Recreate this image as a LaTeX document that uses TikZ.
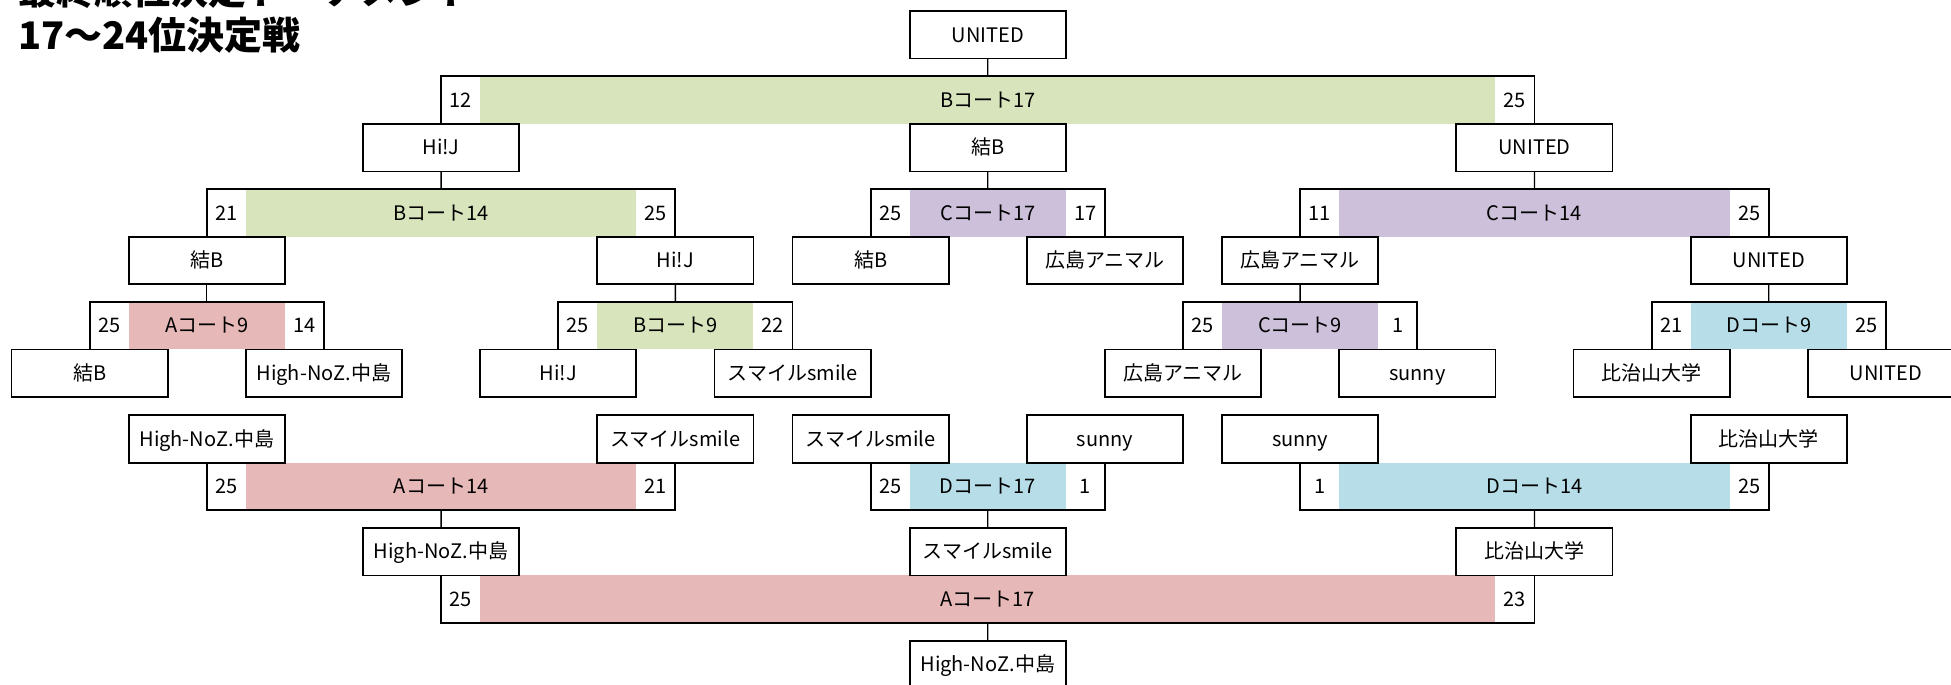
\documentclass[tikz,border=0pt]{standalone}
\usepackage{fontspec}
\setmainfont{Noto Sans CJK JP}
\definecolor{cgreen}{HTML}{D8E4BC}
\definecolor{cpurple}{HTML}{CCC0DA}
\definecolor{cred}{HTML}{E6B8B7}
\definecolor{cblue}{HTML}{B7DEE8}
\tikzset{
  teambox/.style={draw=black, line width=1.8pt, minimum width=156.2pt, minimum height=47.6pt,
    inner sep=0pt, outer sep=0pt, text height=14.7pt, text depth=0pt, font=\fontsize{20}{24}\selectfont},
  lbl/.style={inner sep=0pt, outer sep=0pt, text height=14.7pt, text depth=0pt, font=\fontsize{20}{24}\selectfont},
  barline/.style={draw=black, line width=1.8pt},
  conn/.style={draw=black, line width=1.4pt},
  titletext/.style={anchor=base west, inner sep=0pt, font=\fontsize{38}{45}\selectfont\bfseries}
}
\newcommand{\colx}[1]{11.5+39.05*(#1)}
\newcommand{\tbox}[4]{\node[teambox, anchor=north west] (#1) at ({\colx{#2}},{#3}) {#4};}
% upper bracket bar: name, left col, right col, top y, colour, left score, label, right score
\newcommand{\ubar}[8]{%
  \fill[#5] ({\colx{#2+1}},{#4}) rectangle ({\colx{#3-1}},{#4+47.6});
  \draw[barline] ({\colx{#2}},{#4+47.6}) -- ({\colx{#2}},{#4}) -- ({\colx{#3}},{#4}) -- ({\colx{#3}},{#4+47.6});
  \node[lbl] (#1) at ({\colx{(#2+#3)/2}},{#4+23.8}) {#7};
  \node[lbl] (#1-l) at ({\colx{#2+0.5}},{#4+23.8}) {#6};
  \node[lbl] (#1-r) at ({\colx{#3-0.5}},{#4+23.8}) {#8};
  \coordinate (#1-t) at ({\colx{(#2+#3)/2}},{#4});
}
% lower bracket bar
\newcommand{\lbar}[8]{%
  \fill[#5] ({\colx{#2+1}},{#4}) rectangle ({\colx{#3-1}},{#4+47.6});
  \draw[barline] ({\colx{#2}},{#4}) -- ({\colx{#2}},{#4+47.6}) -- ({\colx{#3}},{#4+47.6}) -- ({\colx{#3}},{#4});
  \node[lbl] (#1) at ({\colx{(#2+#3)/2}},{#4+23.8}) {#7};
  \node[lbl] (#1-l) at ({\colx{#2+0.5}},{#4+23.8}) {#6};
  \node[lbl] (#1-r) at ({\colx{#3-0.5}},{#4+23.8}) {#8};
  \coordinate (#1-b) at ({\colx{(#2+#3)/2}},{#4+47.6});
}
\begin{document}
\begin{tikzpicture}[x=1pt,y=-1pt]
\useasboundingbox (0,0) rectangle (1951,685);
\clip (0,0) rectangle (1951,685);
\fill[white] (0,0) rectangle (1951,685);

% titles
\node[titletext] (title0) at (18,5) {最終順位決定トーナメント};
\node[titletext] (title1) at (18,50) {17～24位決定戦};

% ---------- upper bracket ----------
\ubar{b1}{11}{39}{76.2}{cgreen}{12}{Bコート17}{25}
\ubar{b2a}{5}{17}{189}{cgreen}{21}{Bコート14}{25}
\ubar{b2b}{22}{28}{189}{cpurple}{25}{Cコート17}{17}
\ubar{b2c}{33}{45}{189}{cpurple}{11}{Cコート14}{25}
\ubar{b3a}{2}{8}{301.8}{cred}{25}{Aコート9}{14}
\ubar{b3b}{14}{20}{301.8}{cgreen}{25}{Bコート9}{22}
\ubar{b3c}{30}{36}{301.8}{cpurple}{25}{Cコート9}{1}
\ubar{b3d}{42}{48}{301.8}{cblue}{21}{Dコート9}{25}

\tbox{u0}{23}{11}{UNITED}
\tbox{u1a}{9}{123.8}{Hi!J}
\tbox{u1b}{23}{123.8}{結B}
\tbox{u1c}{37}{123.8}{UNITED}
\tbox{u2a}{3}{236.6}{結B}
\tbox{u2b}{15}{236.6}{Hi!J}
\tbox{u2c}{20}{236.6}{結B}
\tbox{u2d}{26}{236.6}{広島アニマル}
\tbox{u2e}{31}{236.6}{広島アニマル}
\tbox{u2f}{43}{236.6}{UNITED}
\tbox{u3a}{0}{349.4}{結B}
\tbox{u3b}{6}{349.4}{High-NoZ.中島}
\tbox{u3c}{12}{349.4}{Hi!J}
\tbox{u3d}{18}{349.4}{スマイルsmile}
\tbox{u3e}{28}{349.4}{広島アニマル}
\tbox{u3f}{34}{349.4}{sunny}
\tbox{u3g}{40}{349.4}{比治山大学}
\tbox{u3h}{46}{349.4}{UNITED}

\draw[conn] (u0.south) -- (b1-t);
\draw[conn] (u1a.south) -- (b2a-t);
\draw[conn] (u1b.south) -- (b2b-t);
\draw[conn] (u1c.south) -- (b2c-t);
\draw[conn] (u2a.south) -- (b3a-t);
\draw[conn] (u2b.south) -- (b3b-t);
\draw[conn] (u2e.south) -- (b3c-t);
\draw[conn] (u2f.south) -- (b3d-t);

% ---------- lower bracket ----------
\lbar{b4a}{5}{17}{462.6}{cred}{25}{Aコート14}{21}
\lbar{b4b}{22}{28}{462.6}{cblue}{25}{Dコート17}{1}
\lbar{b4c}{33}{45}{462.6}{cblue}{1}{Dコート14}{25}
\lbar{b5}{11}{39}{575.4}{cred}{25}{Aコート17}{23}

\tbox{l1a}{3}{415}{High-NoZ.中島}
\tbox{l1b}{15}{415}{スマイルsmile}
\tbox{l1c}{20}{415}{スマイルsmile}
\tbox{l1d}{26}{415}{sunny}
\tbox{l1e}{31}{415}{sunny}
\tbox{l1f}{43}{415}{比治山大学}
\tbox{l2a}{9}{527.8}{High-NoZ.中島}
\tbox{l2b}{23}{527.8}{スマイルsmile}
\tbox{l2c}{37}{527.8}{比治山大学}
\tbox{l3}{23}{640.6}{High-NoZ.中島}

\draw[conn] (b4a-b) -- (l2a.north);
\draw[conn] (b4b-b) -- (l2b.north);
\draw[conn] (b4c-b) -- (l2c.north);
\draw[conn] (b5-b) -- (l3.north);
\end{tikzpicture}
\end{document}
